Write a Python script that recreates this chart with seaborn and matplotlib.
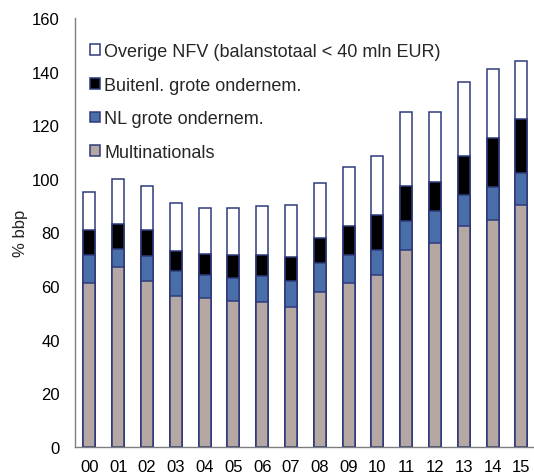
import numpy as np
import pandas as pd
import seaborn as sns
import matplotlib.pyplot as plt

years = ["00", "01", "02", "03", "04", "05", "06", "07",
         "08", "09", "10", "11", "12", "13", "14", "15"]
multinationals = [61, 67, 62, 56.5, 55.7, 54.5, 54, 52.3,
                  57.7, 61, 64, 73.5, 76, 82.5, 84.8, 90.2]
nl_groot = [10.5, 7, 9.3, 9, 8.5, 8.6, 9.6, 9.7,
            11.1, 10.6, 9.6, 10.8, 12.2, 11.5, 12.2, 12]
buitenl_groot = [9.5, 9.3, 9.7, 7.7, 7.8, 8.4, 8.0, 8.9,
                 9.2, 10.9, 12.8, 13.2, 10.8, 14.7, 18.2, 20.2]
overige = [14, 16.7, 16.5, 17.8, 17, 17.8, 18.1, 19.5,
           20.5, 21.9, 22.3, 27.5, 26, 27.6, 25.9, 21.6]

labels = ["Overige NFV (balanstotaal < 40 mln EUR)", "Buitenl. grote ondernem.",
          "NL grote ondernem.", "Multinationals"]
colors = ["white", "black", "#4A6EA8", "#B5A8A2"]

sns.set_style("white")
plt.rcParams["font.family"] = ["Liberation Sans", "DejaVu Sans"]

df = pd.DataFrame({"year": years, "Multinationals": multinationals,
                   "NL": nl_groot, "Buitenl": buitenl_groot, "Overige": overige})
stack = df[["Multinationals", "NL", "Buitenl", "Overige"]].cumsum(axis=1)

fig = plt.figure(figsize=(5.34, 4.77), dpi=100)
ax = fig.add_axes([0.1404, 0.0608, 0.863, 0.8994])

# tallest stack first, each lower level drawn on top of it
for col, lab, c in zip(["Overige", "Buitenl", "NL", "Multinationals"], labels, colors):
    sns.barplot(x=df["year"], y=stack[col], color=c, saturation=1, width=0.42,
                edgecolor="#2E3A7C", linewidth=1.1, label=lab, ax=ax)

ax.set_ylim(0, 160)
ax.set_xlim(-0.5, 15.5)
ax.set_yticks(np.arange(0, 161, 20))
ax.set_xlabel("")
ax.set_ylabel("% bbp", fontsize=12, labelpad=3)
ax.tick_params(axis="both", labelsize=12, length=0, colors="black")
ax.tick_params(axis="y", pad=11)
ax.tick_params(axis="x", pad=9)
for s in ["top", "right"]:
    ax.spines[s].set_visible(False)
for s in ["left", "bottom"]:
    ax.spines[s].set_color("#7F7F7F")
    ax.spines[s].set_linewidth(1.0)

leg = ax.legend(loc="upper left", bbox_to_anchor=(0.018, 0.958), frameon=False,
                fontsize=13, handlelength=0.55, handleheight=0.55,
                handletextpad=0.2, labelspacing=0.92, borderaxespad=0)

fig.savefig("out.png", dpi=100)
